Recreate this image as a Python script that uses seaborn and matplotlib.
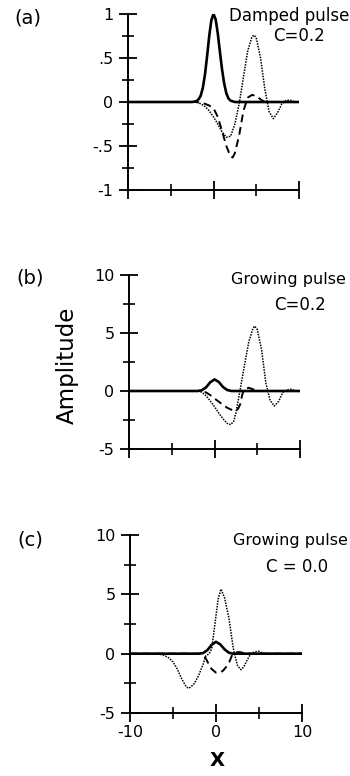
import matplotlib
matplotlib.use("Agg")
import matplotlib.pyplot as plt
import seaborn as sns

# ---------------- data ----------------
# (a) Damped pulse, C = 0.2
xa_solid = [-10, -2.5, -2, -1.75, -1.5, -1.25, -1, -0.75, -0.5, -0.25, 0, 0.25, 0.5, 0.75, 1, 1.25, 1.5, 1.75, 2, 2.5, 10]
ya_solid = [0, 0, 0.01, 0.03, 0.07, 0.16, 0.31, 0.52, 0.75, 0.93, 1.0, 0.94, 0.78, 0.57, 0.37, 0.21, 0.1, 0.04, 0.015, 0, 0]
xa_dash = [-10, -2, -1.5, -1, -0.5, 0, 0.5, 1, 1.5, 2, 2.25, 2.5, 3, 3.5, 4, 4.5, 5, 5.5, 6, 10]
ya_dash = [0, 0, -0.01, -0.02, -0.04, -0.07, -0.17, -0.33, -0.5, -0.62, -0.63, -0.58, -0.38, -0.1, 0.05, 0.08, 0.07, 0.03, 0, 0]
xa_dot = [-10, -2, -1.5, -1, -0.5, 0, 0.5, 1, 1.5, 2, 2.5, 3, 3.5, 4, 4.5, 4.75, 5, 5.5, 6, 6.5, 7, 7.5, 8, 8.5, 9, 9.5, 10]
ya_dot = [0, 0, -0.02, -0.05, -0.1, -0.17, -0.25, -0.34, -0.4, -0.39, -0.25, -0.02, 0.28, 0.58, 0.74, 0.76, 0.73, 0.5, 0.15, -0.11, -0.19, -0.12, -0.02, 0.02, 0.02, 0, 0]

# (b) Growing pulse, C = 0.2
xb_solid = [-10, -2, -1.5, -1, -0.5, 0, 0.5, 1, 1.5, 2, 10]
yb_solid = [0, 0, 0.06, 0.3, 0.75, 1.0, 0.78, 0.34, 0.08, 0, 0]
xb_dash = [-10, -1.5, -1, -0.5, 0, 0.5, 1, 1.5, 2, 2.5, 2.75, 3, 3.25, 3.5, 4, 4.5, 5, 10]
yb_dash = [0, 0, -0.12, -0.35, -0.65, -0.92, -1.2, -1.45, -1.62, -1.7, -1.55, -1.15, -0.3, 0.15, 0.28, 0.15, 0, 0]
xb_dot = [-10, -2, -1.5, -1, -0.5, 0, 0.5, 1, 1.5, 1.9, 2.25, 2.5, 3, 3.5, 4, 4.5, 4.7, 5, 5.5, 6, 6.5, 7, 7.5, 8, 8.5, 9, 9.5, 10]
yb_dot = [0, 0, -0.1, -0.4, -0.85, -1.35, -1.9, -2.4, -2.8, -2.9, -2.6, -1.9, 0.1, 2.2, 4.2, 5.4, 5.6, 5.3, 3.6, 0.7, -0.8, -1.3, -0.9, -0.1, 0.1, 0.15, 0, 0]

# (c) Growing pulse, C = 0.0
xc_solid = [-10, -2, -1.5, -1, -0.5, 0, 0.5, 1, 1.5, 2, 10]
yc_solid = [0, 0, 0.05, 0.3, 0.75, 1.0, 0.78, 0.36, 0.08, 0, 0]
xc_dash = [-10, -1.75, -1.5, -1.17, -0.8, -0.5, 0, 0.4, 0.8, 1.2, 1.55, 1.94, 2.3, 2.7, 3.1, 3.5, 10]
yc_dash = [0, 0, -0.08, -0.42, -0.95, -1.3, -1.6, -1.6, -1.45, -1.1, -0.7, 0, 0.1, 0.14, 0.08, 0, 0]
xc_dot = [-10, -7, -6.5, -6, -5.5, -5, -4.5, -4, -3.5, -3.25, -3, -2.5, -2, -1.5, -1.2, -0.8, -0.5, 0, 0.25, 0.58, 1, 1.5, 2, 2.14, 2.5, 2.9, 3.25, 3.5, 4, 4.5, 5, 5.5, 10]
yc_dot = [0, 0, -0.05, -0.15, -0.35, -0.7, -1.3, -2.1, -2.75, -2.9, -2.85, -2.5, -1.8, -0.9, -0.2, 0.0, 0.4, 3.2, 4.6, 5.44, 4.7, 3.0, 0.5, 0, -1.0, -1.35, -1.1, -0.7, -0.05, 0.15, 0.2, 0, 0]

y_small_ticks = [-1, -0.5, 0, 0.5, 1]
y_small_labels = ["-1", "-.5", "0", ".5", "1"]
y_small_minor = [-0.75, -0.25, 0.25, 0.75]
y_big_ticks = [-5, 0, 5, 10]
y_big_labels = ["-5", "0", "5", "10"]
y_big_minor = [-2.5, 2.5, 7.5]
x_ticks = [-10, 0, 10]
x_tick_labels = ["-10", "0", "10"]
x_minor = [-5, 5]

# ---------------- figure ----------------
sns.set_style("ticks")
plt.rcParams["font.family"] = ["DejaVu Sans"]
plt.rcParams.update({
    "text.color": "black",
    "axes.labelcolor": "black",
    "axes.edgecolor": "black",
    "xtick.color": "black",
    "ytick.color": "black",
})

W, H = 350, 776
fig = plt.figure(figsize=(W / 100, H / 100), dpi=100)


def px_axes(left, right, top, bottom):
    return fig.add_axes([left / W, 1 - bottom / H, (right - left) / W, (bottom - top) / H])


ax_a = px_axes(128, 299, 14, 190)
ax_b = px_axes(129, 300, 275, 449)
ax_c = px_axes(130, 302, 535, 713)

panels = [
    (ax_a, (xa_solid, ya_solid), (xa_dash, ya_dash), (xa_dot, ya_dot), (-1, 1),
     y_small_ticks, y_small_labels, y_small_minor),
    (ax_b, (xb_solid, yb_solid), (xb_dash, yb_dash), (xb_dot, yb_dot), (-5, 10),
     y_big_ticks, y_big_labels, y_big_minor),
    (ax_c, (xc_solid, yc_solid), (xc_dash, yc_dash), (xc_dot, yc_dot), (-5, 10),
     y_big_ticks, y_big_labels, y_big_minor),
]

for ax, solid, dash, dot, ylim, yt, yl, ym in panels:
    sns.lineplot(x=dot[0], y=dot[1], ax=ax, color="black", lw=1.1,
                 linestyle=(0, (1, 0.8)), errorbar=None, sort=False)
    sns.lineplot(x=dash[0], y=dash[1], ax=ax, color="black", lw=1.4,
                 linestyle=(0, (4, 2.5)), errorbar=None, sort=False)
    sns.lineplot(x=solid[0], y=solid[1], ax=ax, color="black", lw=1.9,
                 errorbar=None, sort=False)
    ax.set_xlim(-10, 10)
    ax.set_ylim(*ylim)
    ax.set_xticks(x_ticks)
    ax.set_xticks(x_minor, minor=True)
    ax.set_yticks(yt)
    ax.set_yticklabels(yl)
    ax.set_yticks(ym, minor=True)
    sns.despine(ax=ax)
    for s in ("left", "bottom"):
        ax.spines[s].set_linewidth(1.4)
    ax.tick_params(which="major", direction="inout", length=13, width=1.3,
                   labelsize=11.5, pad=4, color="black", labelcolor="black")
    ax.tick_params(which="minor", direction="inout", length=8, width=1.2, color="black")
    ax.set_xlabel("")
    ax.set_ylabel("")

for ax in (ax_a, ax_b):
    ax.tick_params(axis="x", labelbottom=False)
ax_c.set_xticklabels(x_tick_labels)
ax_c.tick_params(axis="x", pad=2)

# labels and annotations
def ftext(x, y, s, **kw):
    fig.text(x / W, 1 - y / H, s, color="black", **kw)

ftext(28, 18, "(a)", fontsize=14, ha="center", va="center")
ftext(30, 278, "(b)", fontsize=14, ha="center", va="center")
ftext(30, 540, "(c)", fontsize=14, ha="center", va="center")

ftext(349, 16, "Damped pulse", fontsize=12, ha="right", va="center")
ftext(299, 36, "C=0.2", fontsize=12, ha="center", va="center")
ftext(346, 279, "Growing pulse", fontsize=11.5, ha="right", va="center")
ftext(300, 305, "C=0.2", fontsize=12, ha="center", va="center")
ftext(348, 541, "Growing pulse", fontsize=11.5, ha="right", va="center")
ftext(297, 567, "C = 0.0", fontsize=12, ha="center", va="center")

ftext(67, 365, "Amplitude", fontsize=16.5, rotation=90, ha="center", va="center")
ftext(217, 760, "X", fontsize=14, fontweight="bold", ha="center", va="center")

fig.savefig("out.png", dpi=100)
